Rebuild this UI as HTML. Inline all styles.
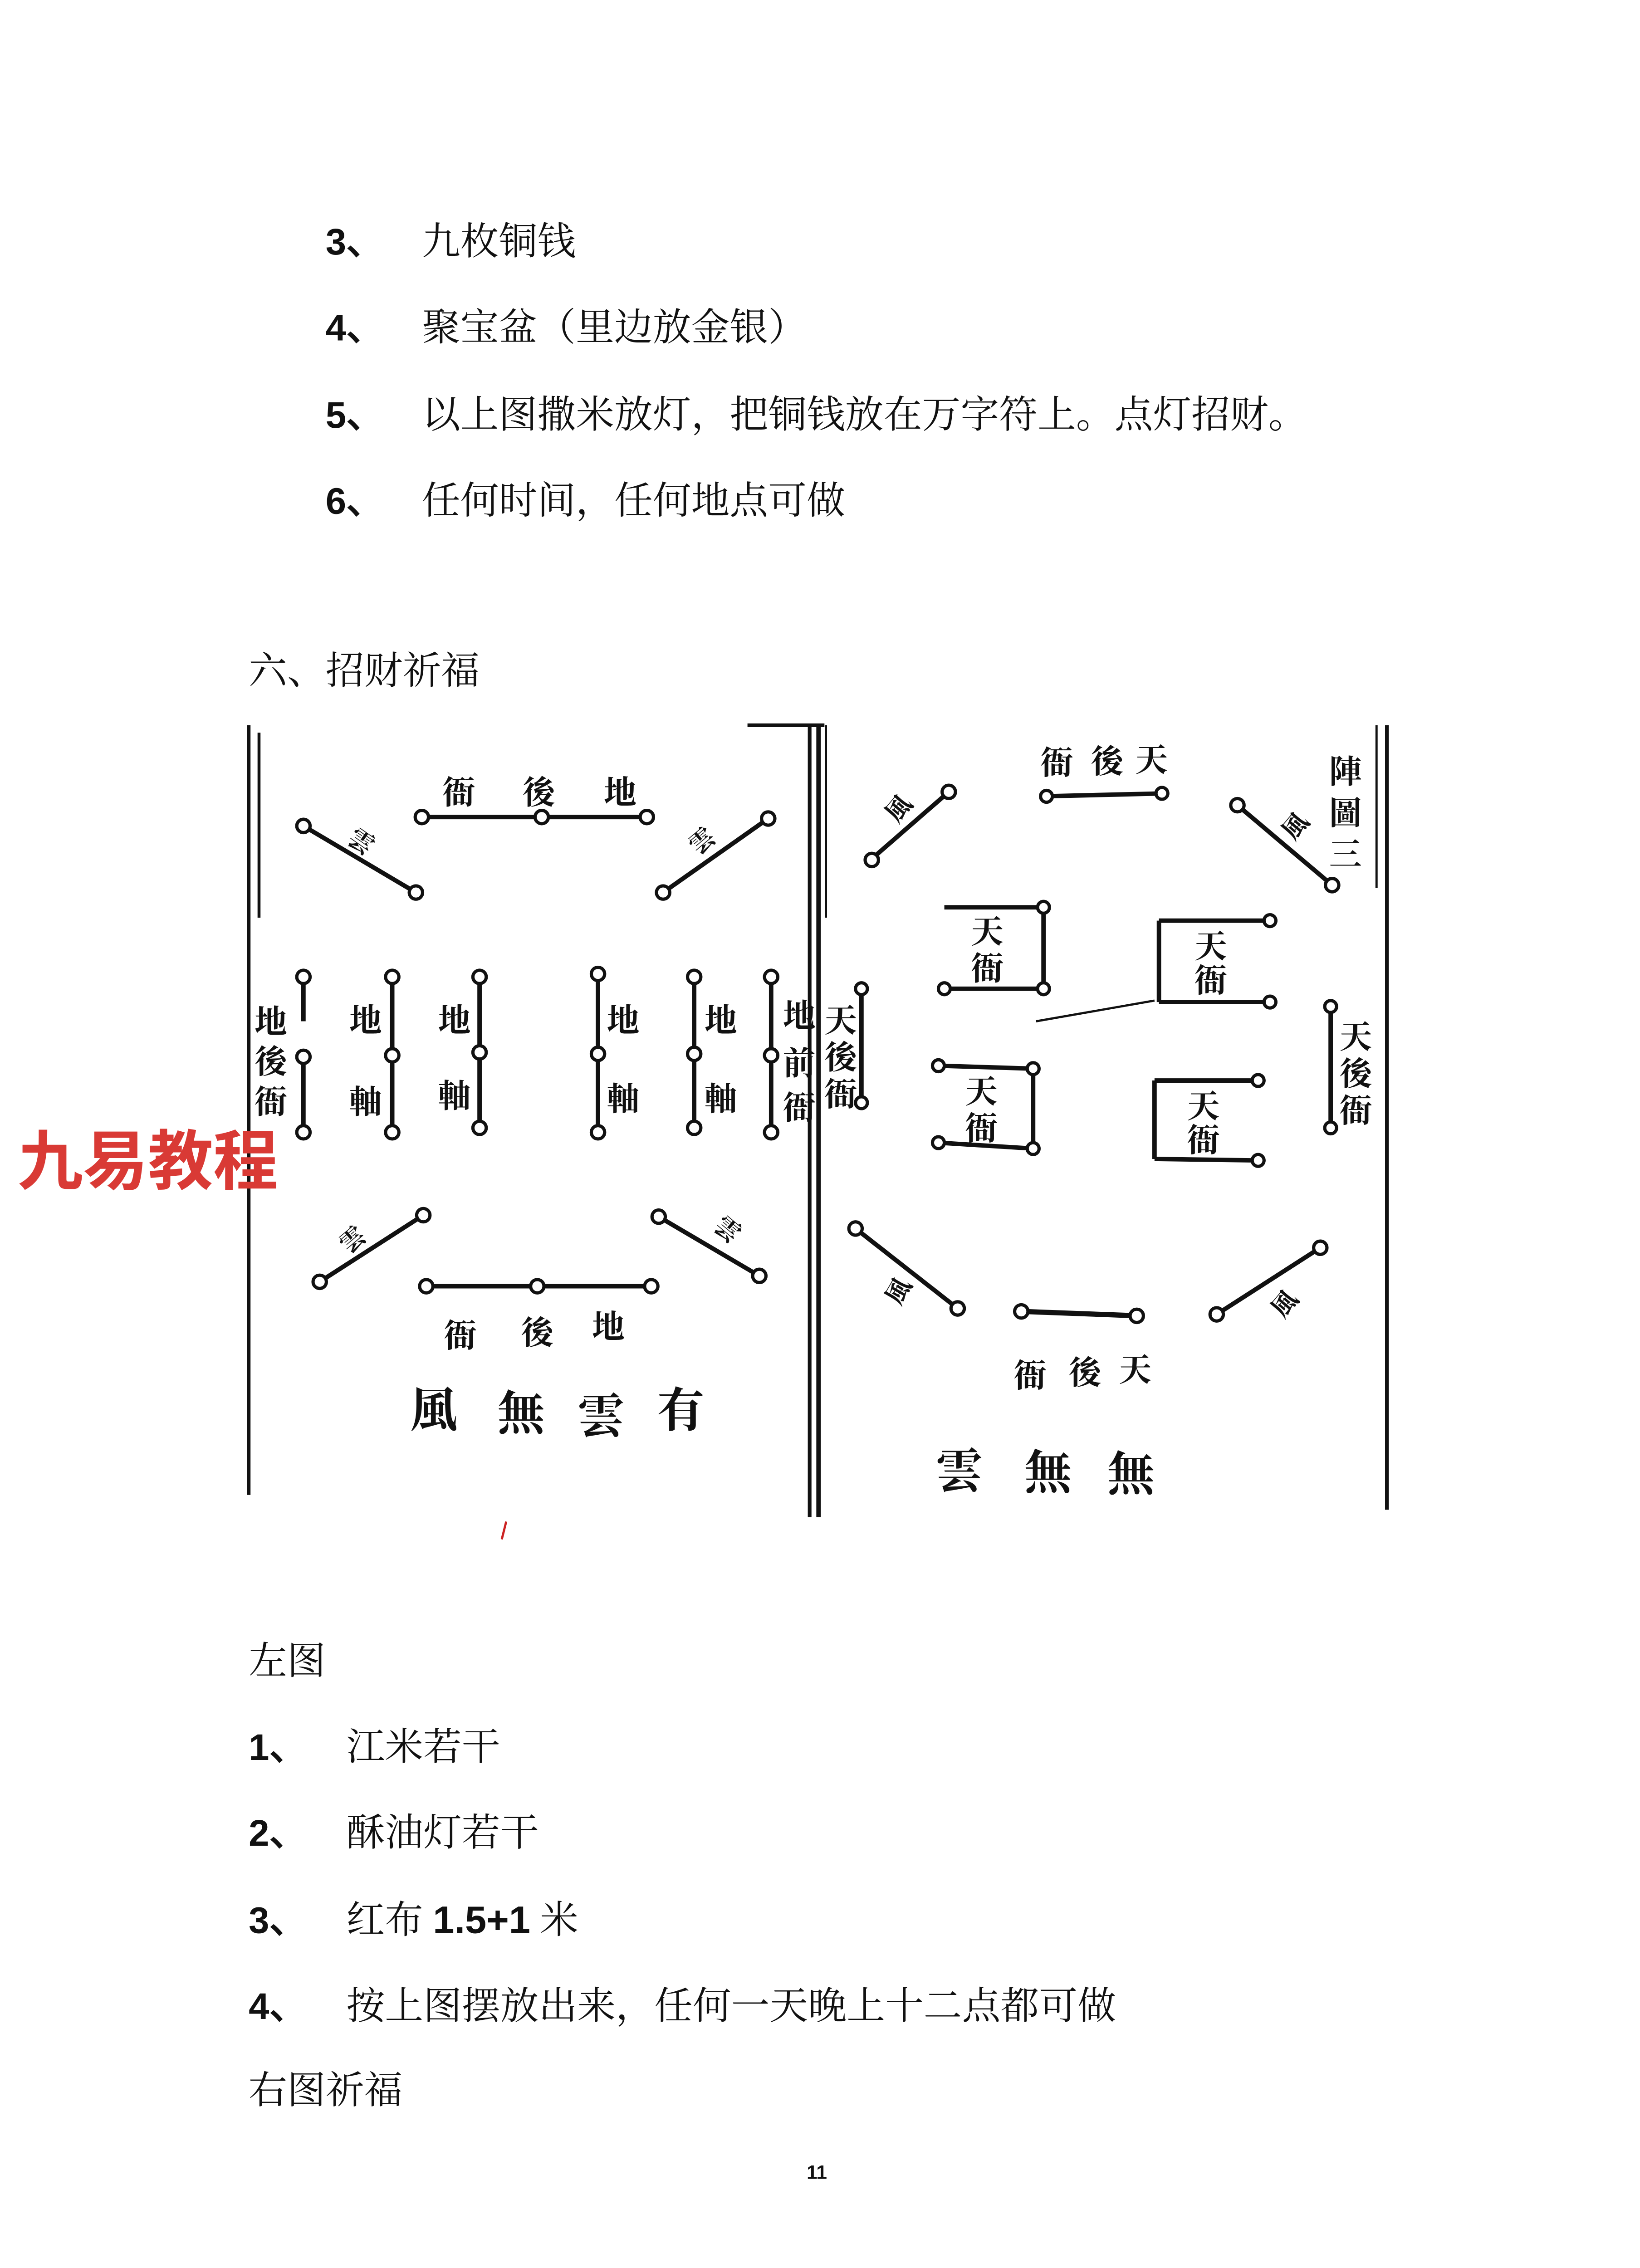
<!DOCTYPE html>
<html><head><meta charset="utf-8"><style>
html,body{margin:0;padding:0;background:#fff;width:3615px;height:5110px;overflow:hidden;}
svg{display:block;position:absolute;left:0;top:0;}
.t{font-family:"Liberation Serif","Noto Serif CJK SC",serif;font-size:26px;fill:#111;}
.n{font-family:"Liberation Sans",sans-serif;font-weight:bold;font-size:25px;fill:#111;}
.d{font-family:"Liberation Serif","Noto Serif CJK SC",serif;font-size:22px;fill:#111;font-weight:bold;}
.s{font-family:"Liberation Serif","Noto Serif CJK SC",serif;font-size:17px;fill:#111;font-weight:bold;}
.b{font-family:"Liberation Serif","Noto Serif CJK SC",serif;font-size:32px;fill:#111;font-weight:bold;}
line,rect{stroke:#111;stroke-width:3;fill:none;}
circle{stroke:#111;stroke-width:2.2;fill:#fff;}
</style></head><body>
<svg width="3615" height="5110" viewBox="0 0 1108 1566" preserveAspectRatio="none" xmlns="http://www.w3.org/2000/svg">
<text class="n" x="220" y="172">3、</text><text class="t" x="285" y="172">九枚铜钱</text>
<text class="n" x="220" y="230">4、</text><text class="t" x="285" y="230">聚宝盆（里边放金银）</text>
<text class="n" x="220" y="289">5、</text><text class="t" x="285" y="289">以上图撒米放灯，把铜钱放在万字符上。点灯招财。</text>
<text class="n" x="220" y="347">6、</text><text class="t" x="285" y="347">任何时间，任何地点可做</text>
<text class="t" x="168" y="462">六、招财祈福</text>

<line x1="168" y1="490" x2="168" y2="1010" style="stroke-width:2.5"/>
<line x1="175" y1="495" x2="175" y2="620" style="stroke-width:2"/>
<line x1="505" y1="490" x2="557" y2="490" style="stroke-width:2.5"/>
<line x1="547" y1="490" x2="547" y2="1025" style="stroke-width:2.5"/>
<line x1="553" y1="490" x2="553" y2="1025" style="stroke-width:3"/>
<line x1="558" y1="490" x2="558" y2="620" style="stroke-width:1.5"/>
<line x1="937" y1="490" x2="937" y2="1020" style="stroke-width:2.5"/>
<line x1="930" y1="490" x2="930" y2="600" style="stroke-width:1.5"/>

<line x1="285" y1="552" x2="437" y2="552"/>
<circle cx="285" cy="552" r="4.5"/><circle cx="366" cy="552" r="4.5"/><circle cx="437" cy="552" r="4.5"/>
<text class="d" x="299" y="543">衙</text><text class="d" x="353" y="543">後</text><text class="d" x="408" y="543">地</text>
<line x1="205" y1="558" x2="281" y2="603"/><circle cx="205" cy="558" r="4.5"/><circle cx="281" cy="603" r="4.5"/>
<text class="s" x="236" y="575" transform="rotate(35 245 568)">雲</text>
<line x1="448" y1="603" x2="519" y2="553"/><circle cx="448" cy="603" r="4.5"/><circle cx="519" cy="553" r="4.5"/>
<text class="s" x="465" y="574" transform="rotate(-40 474 567)">雲</text>

<line x1="205" y1="660" x2="205" y2="690"/><line x1="205" y1="714" x2="205" y2="765"/>
<circle cx="205" cy="660" r="4.5"/><circle cx="205" cy="714" r="4.5"/><circle cx="205" cy="765" r="4.5"/>
<line x1="265" y1="660" x2="265" y2="765"/><circle cx="265" cy="660" r="4.5"/><circle cx="265" cy="713" r="4.5"/><circle cx="265" cy="765" r="4.5"/>
<line x1="324" y1="660" x2="324" y2="762"/><circle cx="324" cy="660" r="4.5"/><circle cx="324" cy="711" r="4.5"/><circle cx="324" cy="762" r="4.5"/>
<line x1="404" y1="658" x2="404" y2="765"/><circle cx="404" cy="658" r="4.5"/><circle cx="404" cy="712" r="4.5"/><circle cx="404" cy="765" r="4.5"/>
<line x1="469" y1="660" x2="469" y2="762"/><circle cx="469" cy="660" r="4.5"/><circle cx="469" cy="712" r="4.5"/><circle cx="469" cy="762" r="4.5"/>
<line x1="521" y1="660" x2="521" y2="765"/><circle cx="521" cy="660" r="4.5"/><circle cx="521" cy="713" r="4.5"/><circle cx="521" cy="765" r="4.5"/>
<text class="d" x="172" y="698">地</text><text class="d" x="172" y="725">後</text><text class="d" x="172" y="752">衙</text>
<text class="d" x="236" y="697">地</text><text class="d" x="236" y="752">軸</text>
<text class="d" x="296" y="697">地</text><text class="d" x="296" y="748">軸</text>
<text class="d" x="410" y="697">地</text><text class="d" x="410" y="750">軸</text>
<text class="d" x="476" y="697">地</text><text class="d" x="476" y="750">軸</text>
<text class="d" x="529" y="694">地</text><text class="d" x="529" y="726">前</text><text class="d" x="529" y="756">衙</text>

<line x1="216" y1="866" x2="286" y2="821"/><circle cx="216" cy="866" r="4.5"/><circle cx="286" cy="821" r="4.5"/>
<text class="s" x="228" y="843" transform="rotate(-40 238 835)">雲</text>
<line x1="445" y1="822" x2="513" y2="862"/><circle cx="445" cy="822" r="4.5"/><circle cx="513" cy="862" r="4.5"/>
<text class="s" x="484" y="838" transform="rotate(40 494 830)">雲</text>
<line x1="288" y1="869" x2="440" y2="869"/>
<circle cx="288" cy="869" r="4.5"/><circle cx="363" cy="869" r="4.5"/><circle cx="440" cy="869" r="4.5"/>
<text class="d" x="300" y="910">衙</text><text class="d" x="352" y="908">後</text><text class="d" x="400" y="904">地</text>
<text class="b" x="277" y="964">風</text><text class="b" x="336" y="966">無</text><text class="b" x="390" y="968">雲</text><text class="b" x="444" y="964">有</text>

<text class="d" x="703" y="523">衙</text><text class="d" x="737" y="522">後</text><text class="d" x="767" y="521">天</text>
<line x1="705" y1="538" x2="788" y2="536"/><circle cx="707" cy="538" r="4"/><circle cx="785" cy="536" r="4"/>
<line x1="587" y1="582" x2="641" y2="535"/><circle cx="589" cy="581" r="4.5"/><circle cx="641" cy="535" r="4.5"/>
<text class="s" x="598" y="553" transform="rotate(-50 606 546)">風</text>
<line x1="836" y1="544" x2="900" y2="598"/><circle cx="836" cy="544" r="4.5"/><circle cx="900" cy="598" r="4.5"/>
<text class="s" x="866" y="565" transform="rotate(-50 874 558)">風</text>
<text class="d" x="898" y="529">陣</text><text class="d" x="898" y="557">圖</text><text class="d" x="898" y="585">三</text>

<line x1="638" y1="613" x2="705" y2="613"/><line x1="705" y1="613" x2="705" y2="668"/><line x1="638" y1="668" x2="705" y2="668"/>
<circle cx="705" cy="613" r="4"/><circle cx="638" cy="668" r="4"/><circle cx="705" cy="668" r="4"/>
<text class="d" x="656" y="637">天</text><text class="d" x="656" y="662">衙</text>
<line x1="783" y1="622" x2="858" y2="622"/><line x1="783" y1="622" x2="783" y2="677"/><line x1="783" y1="677" x2="858" y2="677"/>
<circle cx="858" cy="622" r="4"/><circle cx="858" cy="677" r="4"/>
<text class="d" x="807" y="647">天</text><text class="d" x="807" y="670">衙</text>
<line x1="634" y1="720" x2="698" y2="722"/><line x1="698" y1="722" x2="698" y2="776"/><line x1="634" y1="772" x2="698" y2="776"/>
<circle cx="634" cy="720" r="4"/><circle cx="698" cy="722" r="4"/><circle cx="634" cy="772" r="4"/><circle cx="698" cy="776" r="4"/>
<text class="d" x="652" y="745">天</text><text class="d" x="652" y="770">衙</text>
<line x1="780" y1="730" x2="850" y2="730"/><line x1="780" y1="730" x2="780" y2="783"/><line x1="780" y1="783" x2="850" y2="784"/>
<circle cx="850" cy="730" r="4"/><circle cx="850" cy="784" r="4"/>
<text class="d" x="802" y="755">天</text><text class="d" x="802" y="778">衙</text>
<line x1="700" y1="690" x2="780" y2="676" style="stroke-width:1.5"/>

<line x1="582" y1="668" x2="582" y2="745"/><circle cx="582" cy="668" r="4"/><circle cx="582" cy="745" r="4"/>
<text class="d" x="557" y="697">天</text><text class="d" x="557" y="722">後</text><text class="d" x="557" y="747">衙</text>
<line x1="899" y1="680" x2="899" y2="762"/><circle cx="899" cy="680" r="4"/><circle cx="899" cy="762" r="4"/>
<text class="d" x="905" y="708">天</text><text class="d" x="905" y="733">後</text><text class="d" x="905" y="758">衙</text>

<line x1="578" y1="830" x2="647" y2="884"/><circle cx="578" cy="830" r="4.5"/><circle cx="647" cy="884" r="4.5"/>
<text class="s" x="596" y="878" transform="rotate(-60 606 870)">風</text>
<line x1="690" y1="886" x2="770" y2="889" style="stroke-width:3.5"/><circle cx="690" cy="886" r="4.5"/><circle cx="768" cy="889" r="4.5"/>
<line x1="822" y1="888" x2="892" y2="843"/><circle cx="822" cy="888" r="4.5"/><circle cx="892" cy="843" r="4.5"/>
<text class="s" x="858" y="888" transform="rotate(-50 866 880)">風</text>
<text class="d" x="685" y="937">衙</text><text class="d" x="722" y="935">後</text><text class="d" x="756" y="933">天</text>
<text class="b" x="632" y="1005">雲</text><text class="b" x="692" y="1006">無</text><text class="b" x="748" y="1007">無</text>

<line x1="342" y1="1028" x2="339" y2="1040" style="stroke:#c22;stroke-width:1.5"/>

<text x="12" y="800" style="font-family:'Liberation Sans','Noto Sans CJK SC',sans-serif;font-weight:bold;font-size:44px;fill:#d93a35;">九易教程</text>

<text class="t" x="168" y="1131">左图</text>
<text class="n" x="168" y="1189">1、</text><text class="t" x="234" y="1189">江米若干</text>
<text class="n" x="168" y="1247">2、</text><text class="t" x="234" y="1247">酥油灯若干</text>
<text class="n" x="168" y="1306">3、</text><text class="t" x="234" y="1306">红布 <tspan style="font-family:'Liberation Sans',sans-serif;font-weight:bold">1.5+1</tspan> 米</text>
<text class="n" x="168" y="1364">4、</text><text class="t" x="234" y="1364">按上图摆放出来，任何一天晚上十二点都可做</text>
<text class="t" x="168" y="1421">右图祈福</text>
<text x="545" y="1472" style="font-family:'Liberation Sans',sans-serif;font-size:13px;fill:#111;font-weight:bold">11</text>
</svg>
</body></html>
